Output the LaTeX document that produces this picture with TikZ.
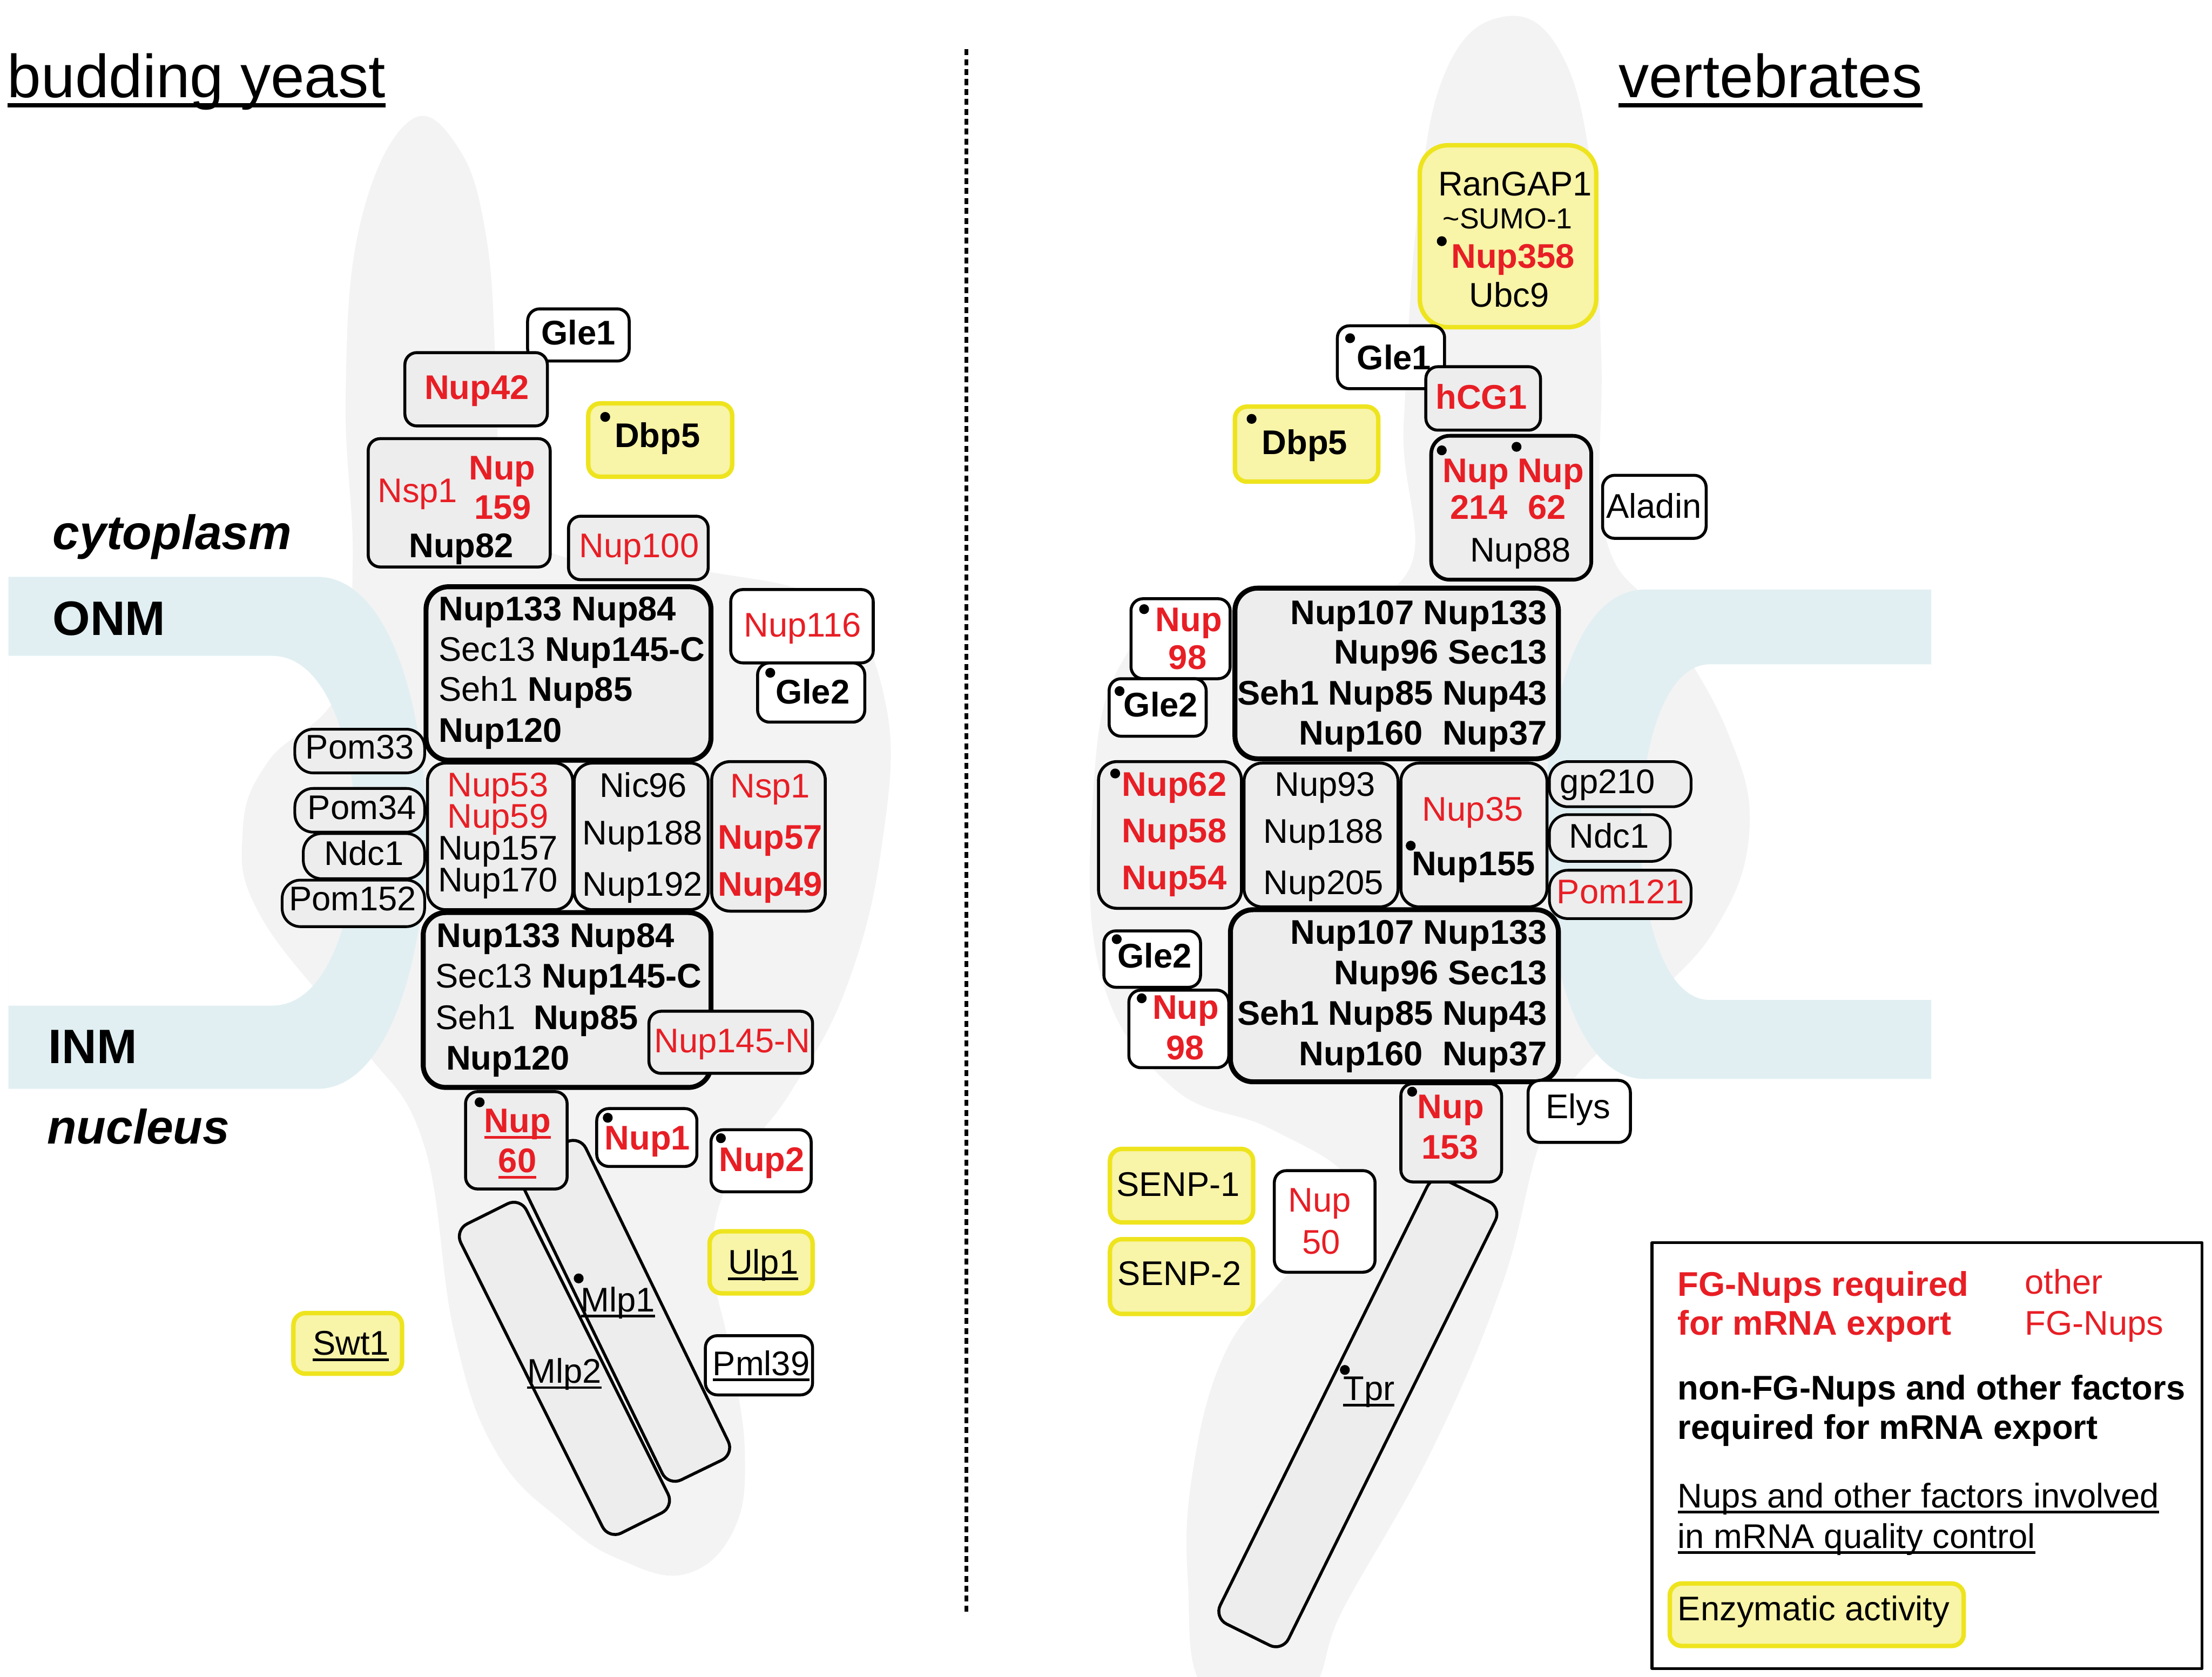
\documentclass[tikz,border=0pt]{standalone}
\usepackage{fontspec}
\setmainfont{Liberation Sans}
\usetikzlibrary{fit}
\definecolor{nred}{RGB}{232,30,37}
\definecolor{yfill}{RGB}{248,244,168}
\definecolor{yline}{RGB}{238,228,30}
\definecolor{bgray}{RGB}{243,243,243}
\definecolor{boxgray}{RGB}{237,237,237}
\definecolor{memb}{RGB}{225,239,242}
\newcommand\bxf{\fontsize{13.8}{16}\selectfont}
\newcommand\smf{\fontsize{11.7}{14}\selectfont}
\newcommand\ttlf{\fontsize{24.5}{28}\selectfont}
\newcommand\regf{\fontsize{19.5}{22}\selectfont\bfseries}
\newsavebox\ulbox
\newcommand\myul[1]{\sbox\ulbox{#1}\rlap{\rule[-0.17em]{\wd\ulbox}{0.075em}}\usebox\ulbox}
\newcommand\bx[4][bx]{\node[#1, fit={#3 #4}] (#2) {};}
\tikzset{
 bx/.style={draw=black, line width=1.2pt, rounded corners=0.17cm, inner sep=0pt, fill=boxgray},
 wbx/.style={bx, fill=white},
 ybx/.style={bx, fill=yfill, draw=yline, line width=1.8pt},
 thk/.style={bx, line width=2pt, rounded corners=0.32cm},
 pill/.style={bx, line width=1.1pt, rounded corners=0.26cm},
 tx/.style={font=\bxf, inner sep=0pt, anchor=mid, yshift=-1.4pt},
 txb/.style={tx, font=\bxf\bfseries},
 rtx/.style={tx, text=nred},
 rtxb/.style={txb, text=nred},
 dot/.style={circle, fill=black, inner sep=0pt, minimum size=0.14cm},
 ttl/.style={font=\ttlf, inner sep=0pt, anchor=base west},
 reg/.style={font=\regf, inner sep=0pt, anchor=base west},
 dashline/.style={line width=1.4pt, dash pattern=on 2.4pt off 1.6pt},
}
\begin{document}
\begin{tikzpicture}[x=0.02cm, y=-0.02cm, line join=round]
\useasboundingbox (0,0) rectangle (1568,1189);
% gray background blobs
\fill[bgray] plot[smooth cycle, tension=0.7] coordinates {(290,86) (325,105) (345,170) (352,270) (358,360) (400,395) (500,405) (590,430) (628,500) (625,600) (600,700) (560,775) (520,830) (505,890) (518,960) (528,1030) (520,1085) (486,1116) (440,1106) (400,1080) (352,1030) (322,945) (300,810) (255,740) (185,650) (172,590) (190,540) (240,490) (250,400) (245,280) (255,160)};
\fill[bgray] plot[smooth cycle, tension=0.7] coordinates {(1065,12) (1105,35) (1128,120) (1135,250) (1138,380) (1180,440) (1225,520) (1240,590) (1215,660) (1160,720) (1100,790) (1065,910) (1015,1028) (952,1141) (925,1200) (856,1200) (842,1120) (846,1040) (868,960) (905,912) (945,870) (955,835) (900,800) (830,770) (780,690) (775,560) (795,470) (850,430) (990,415) (995,300) (1005,150) (1025,50)};
% membranes
\fill[memb, even odd rule] (6,409) -- (225,409) .. controls (275,409) and (302,500) .. (302,590) .. controls (302,680) and (275,772) .. (225,772) -- (6,772) -- cycle
 (6,465) -- (193,465) .. controls (232,465) and (252,530) .. (252,590) .. controls (252,650) and (232,713) .. (193,713) -- (6,713) -- cycle;
\fill[memb, even odd rule] (1369,418) -- (1166,418) .. controls (1118,418) and (1095,500) .. (1095,590) .. controls (1095,680) and (1118,765) .. (1166,765) -- (1369,765) -- cycle
 (1369,471) -- (1212,471) .. controls (1180,471) and (1163,530) .. (1163,590) .. controls (1163,650) and (1180,709) .. (1212,709) -- (1369,709) -- cycle;
% dashed separator
\coordinate (dtop) at (685,35);
\coordinate (dbot) at (685,1144);
\draw[dashline] (dtop) -- (dbot);
% titles and region labels
\node[ttl] (tyeast) at (5,69) {\myul{budding yeast}};
\node[ttl] (tvert) at (1147,69) {\myul{vertebrates}};
\node[reg] (lcyto) at (37,389.5) {\itshape cytoplasm};
\node[reg] (lonm) at (37,450.5) {ONM};
\node[reg] (linm) at (34,754) {INM};
\node[reg] (lnuc) at (33,811) {\itshape nucleus};

% ================= LEFT: budding yeast =================
\bx[wbx]{gleA}{(374,219)}{(446,256)}
\bx{nupA42}{(287,250)}{(388,302)}
\bx[ybx]{dbpA}{(417,286)}{(519,338)}
\bx{nspA}{(261,311)}{(390,402)}
\bx{nup100}{(403,366)}{(502,411)}
\bx[thk]{yA1}{(302,416)}{(504,539)}
\bx[wbx]{nup116}{(518,418)}{(619,470)}
\bx[wbx]{gle2A}{(537,470)}{(613,512)}
\bx[pill]{pom33}{(209,517)}{(301,548)}
\bx[pill]{pom34}{(209,559)}{(301,590)}
\bx[pill]{ndcA}{(215,591)}{(301,623)}
\bx[pill]{pom152}{(200,624)}{(301,657)}
\bx[bx, rounded corners=0.26cm]{inA1}{(303,541)}{(406,645)}
\bx[bx, rounded corners=0.26cm]{inA2}{(407,541)}{(502,645)}
\bx[bx, rounded corners=0.26cm]{inA3}{(504.5,540)}{(585,646)}
\bx[thk]{yA2}{(300,647)}{(504,771)}
\bx{nup145n}{(460,717)}{(576,761)}
\node[bx, rounded corners=0.2cm, minimum width=1.04cm, minimum height=5.02cm, rotate=25.9] (mlp1) at (442.4,929.4) {};
\node[bx, rounded corners=0.2cm, minimum width=1.04cm, minimum height=4.9cm, rotate=26.5] (mlp2) at (400.1,970.2) {};
\bx{nup60}{(330,774)}{(402,843)}
\bx[wbx]{nup1}{(423,786)}{(494,827)}
\bx[wbx]{nup2}{(504,801)}{(575,845)}
\bx[ybx]{ulp1}{(503,873)}{(576,917)}
\bx[ybx]{swt1}{(208,931)}{(285,974)}
\bx[wbx]{pml39}{(500,947)}{(576,989)}

\node[txb] (gleA-t) at (410,237.5) {Gle1};
\node[rtxb] (nupA42-t) at (338,276) {Nup42};
\node[txb] (dbpA-t) at (466,310) {Dbp5};
\node[rtx] (nspA-t1) at (296,349) {Nsp1};
\node[rtxb] (nspA-t2) at (356,333) {Nup};
\node[rtxb] (nspA-t3) at (356.5,361) {159};
\node[txb] (nspA-t4) at (327,388) {Nup82};
\node[rtx] (nup100-t) at (453,388) {Nup100};
\node[txb, anchor=mid west] (yA1-t1) at (310.6,433) {Nup133 Nup84};
\node[tx, anchor=mid west] (yA1-t2) at (310.6,461.5) {Sec13 \textbf{Nup145-C}};
\node[tx, anchor=mid west] (yA1-t3) at (310.6,490) {Seh1 \textbf{Nup85}};
\node[txb, anchor=mid west] (yA1-t4) at (310.6,519) {Nup120};
\node[rtx] (nup116-t) at (569,444.5) {Nup116};
\node[txb] (gle2A-t) at (576,492) {Gle2};
\node[tx] (pom33-t) at (255,531) {Pom33};
\node[tx] (pom34-t) at (256.6,574) {Pom34};
\node[tx] (ndcA-t) at (258,606.5) {Ndc1};
\node[tx] (pom152-t) at (250,638.5) {Pom152};
\node[rtx] (inA1-t1) at (353,557.7) {Nup53};
\node[rtx] (inA1-t2) at (353,580) {Nup59};
\node[tx] (inA1-t3) at (353,602.7) {Nup157};
\node[tx] (inA1-t4) at (353,625) {Nup170};
\node[tx] (inA2-t1) at (456,558) {Nic96};
\node[tx] (inA2-t2) at (455.4,591.7) {Nup188};
\node[tx] (inA2-t3) at (455.4,628) {Nup192};
\node[rtx] (inA3-t1) at (546,558.6) {Nsp1};
\node[rtxb] (inA3-t2) at (546,595) {Nup57};
\node[rtxb] (inA3-t3) at (546,628) {Nup49};
\node[txb, anchor=mid west] (yA2-t1) at (309.3,664.5) {Nup133 Nup84};
\node[tx, anchor=mid west] (yA2-t2) at (308.4,693.2) {Sec13 \textbf{Nup145-C}};
\node[tx, anchor=mid west] (yA2-t3) at (308.4,722.8) {Seh1\hspace{3.5pt} \textbf{Nup85}};
\node[txb, anchor=mid west] (yA2-t4) at (315.9,751.5) {Nup120};
\node[rtx] (nup145n-t) at (519,739) {Nup145-N};
\node[rtxb] (nup60-t1) at (366.8,796) {\myul{Nup}};
\node[rtxb] (nup60-t2) at (366.8,824.3) {\myul{60}};
\node[rtxb] (nup1-t) at (459,808) {Nup1};
\node[rtxb] (nup2-t) at (540,823.4) {Nup2};
\node[tx] (ulp1-t) at (541,896.3) {\myul{Ulp1}};
\node[tx] (swt1-t) at (248.7,953.7) {\myul{Swt1}};
\node[tx] (pml39-t) at (539.6,968) {\myul{Pml39}};
\node[tx] (mlp1-t) at (438,922.8) {\myul{Mlp1}};
\node[tx] (mlp2-t) at (400,973.5) {\myul{Mlp2}};

\node[dot] (dA1) at (429,295.6) {};
\node[dot] (dA2) at (546,477) {};
\node[dot] (dA3) at (340,781.5) {};
\node[dot] (dA4) at (430.8,792.5) {};
\node[dot] (dA5) at (511,807) {};
\node[dot] (dA6) at (410.2,906.4) {};

% ================= RIGHT: vertebrates =================
\bx[ybx, rounded corners=0.4cm]{ranbox}{(1006.4,103)}{(1131.5,232)}
\bx[wbx]{gleB}{(948,231)}{(1024,275.6)}
\bx{hcg1}{(1010.7,260)}{(1092,305)}
\bx[ybx]{dbpB}{(875.4,288.3)}{(977,341.5)}
\bx[bx, line width=1.5pt, rounded corners=0.26cm]{n214}{(1014.5,309)}{(1128,411)}
\bx[wbx]{aladin}{(1136,337)}{(1209.4,381.7)}
\bx[thk]{yB1}{(875.4,417)}{(1104.7,538)}
\bx[wbx]{n98a}{(801.7,424.5)}{(872,481.2)}
\bx[wbx]{gle2a}{(786.2,481.2)}{(855,522)}
\bx[bx, rounded corners=0.26cm]{n62}{(778.7,540)}{(880,644)}
\bx[bx, rounded corners=0.26cm]{n93}{(881.8,541)}{(991,643)}
\bx[bx, rounded corners=0.26cm]{n35}{(993,541)}{(1096.6,643)}
\bx[pill]{gp210}{(1098.3,540)}{(1198.7,572)}
\bx[pill]{ndcB}{(1098.3,577.6)}{(1184,610.7)}
\bx[pill]{pom121}{(1098.3,617)}{(1198.7,651.3)}
\bx[thk]{yB2}{(872.2,645)}{(1104.7,767)}
\bx[wbx]{gle2b}{(782.5,660)}{(851,700)}
\bx[wbx]{n98b}{(800.2,702)}{(871,757)}
\node[bx, rounded corners=0.2cm, minimum width=1.08cm, minimum height=7.02cm, rotate=-26.3] (tpr) at (962.5,1001.7) {};
\bx{n153}{(993,768.3)}{(1064.4,838)}
\bx[wbx]{elys}{(1083.2,766)}{(1155.7,810)}
\bx[ybx]{senp1}{(786.8,814.6)}{(888.3,866.7)}
\bx[ybx]{senp2}{(786.8,878.6)}{(888.3,931.6)}
\bx[wbx]{n50}{(903.3,830)}{(974.7,902)}

\node[tx] (ran-t1) at (1074,131.5) {RanGAP1};
\node[tx, font=\smf] (ran-t2) at (1068.7,155.2) {\textasciitilde SUMO-1};
\node[rtxb] (ran-t3) at (1072.5,183) {Nup358};
\node[tx] (ran-t4) at (1069.8,210.7) {Ubc9};
\node[txb] (gleB-t) at (988.2,255) {Gle1};
\node[rtxb] (hcg1-t) at (1050,283) {hCG1};
\node[txb] (dbpB-t) at (924.8,315.2) {Dbp5};
\node[rtxb] (n214-t1) at (1046.2,335) {Nup};
\node[rtxb] (n214-t2) at (1099.3,335) {Nup};
\node[rtxb] (n214-t3) at (1048.3,361) {214};
\node[rtxb] (n214-t4) at (1096.6,361) {62};
\node[tx] (n214-t5) at (1077.8,391.2) {Nup88};
\node[tx] (aladin-t) at (1172.3,360.2) {Aladin};
\node[txb, anchor=mid east] (yB1-t1) at (1097,435.6) {Nup107 Nup133};
\node[txb, anchor=mid east] (yB1-t2) at (1097,463.5) {Nup96 Sec13};
\node[txb, anchor=mid east] (yB1-t3) at (1097,492.5) {Seh1 Nup85 Nup43};
\node[txb, anchor=mid east] (yB1-t4) at (1097,521.1) {Nup160\hspace{0.3em} Nup37};
\node[rtxb] (n98a-t1) at (842.7,440.7) {Nup};
\node[rtxb] (n98a-t2) at (841.8,467.3) {98};
\node[txb] (gle2a-t) at (822.8,501) {Gle2};
\node[rtxb] (n62-t1) at (832.4,557.3) {Nup62};
\node[rtxb] (n62-t2) at (832.4,590.4) {Nup58};
\node[rtxb] (n62-t3) at (832.4,623.5) {Nup54};
\node[tx] (n93-t1) at (939.3,557.3) {Nup93};
\node[tx] (n93-t2) at (938.2,590.8) {Nup188};
\node[tx] (n93-t3) at (938.2,627) {Nup205};
\node[rtx] (n35-t1) at (1044,575) {Nup35};
\node[txb] (n35-t2) at (1044.5,613.8) {Nup155};
\node[tx] (gp210-t) at (1139.6,555.5) {gp210};
\node[tx] (ndcB-t) at (1140.7,594) {Ndc1};
\node[rtx] (pom121-t) at (1148.7,633.6) {Pom121};
\node[txb, anchor=mid east] (yB2-t1) at (1097,662.3) {Nup107 Nup133};
\node[txb, anchor=mid east] (yB2-t2) at (1097,691) {Nup96 Sec13};
\node[txb, anchor=mid east] (yB2-t3) at (1097,719.7) {Seh1 Nup85 Nup43};
\node[txb, anchor=mid east] (yB2-t4) at (1097,748.4) {Nup160\hspace{0.3em} Nup37};
\node[txb] (gle2b-t) at (818.5,679) {Gle2};
\node[rtxb] (n98b-t1) at (840.5,715.3) {Nup};
\node[rtxb] (n98b-t2) at (840,744) {98};
\node[rtxb] (n153-t1) at (1028.4,786) {Nup};
\node[rtxb] (n153-t2) at (1027.9,814.6) {153};
\node[tx] (elys-t) at (1118.6,786) {Elys};
\node[tx] (senp1-t) at (835.1,841) {SENP-1};
\node[tx] (senp2-t) at (836.2,904.2) {SENP-2};
\node[rtx] (n50-t1) at (935.5,852.1) {Nup};
\node[rtx] (n50-t2) at (936.6,882.1) {50};
\node[tx] (tpr-t) at (970.4,985.9) {\myul{Tpr}};

\node[dot] (dB1) at (1022,171) {};
\node[dot] (dB2) at (957,239.8) {};
\node[dot] (dB3) at (887.2,297) {};
\node[dot] (dB4) at (1022,319.3) {};
\node[dot] (dB5) at (1075,316.8) {};
\node[dot] (dB6) at (811,431.9) {};
\node[dot] (dB7) at (793.6,490) {};
\node[dot] (dB8) at (790.5,548.4) {};
\node[dot] (dB9) at (1000,599.6) {};
\node[dot] (dB10) at (791.6,665.9) {};
\node[dot] (dB11) at (809.3,707.8) {};
\node[dot] (dB12) at (1001,774) {};
\node[dot] (dB13) at (953.3,971.3) {};

% ================= legend =================
\bx[wbx, rounded corners=0pt, line width=1.1pt]{legend}{(1171,881)}{(1561,1183)}
\node[rtxb, anchor=mid west] (lg1) at (1189,911.7) {FG-Nups required};
\node[rtxb, anchor=mid west] (lg2) at (1189,939.5) {for mRNA export};
\node[rtx, anchor=mid west] (lg3) at (1435,910.4) {other};
\node[rtx, anchor=mid west] (lg4) at (1435,939.5) {FG-Nups};
\node[txb, anchor=mid west] (lg5) at (1189,985.4) {non-FG-Nups and other factors};
\node[txb, anchor=mid west] (lg6) at (1189,1013.2) {required for mRNA export};
\node[tx, anchor=mid west] (lg7) at (1189,1061.8) {\myul{Nups and other factors involved}};
\node[tx, anchor=mid west] (lg8) at (1189,1090.5) {\myul{in mRNA quality control}};
\bx[ybx]{enz}{(1183.6,1122.7)}{(1392,1167)}
\node[tx, anchor=mid west] (lg9) at (1189,1142) {Enzymatic activity};
\end{tikzpicture}
\end{document}
